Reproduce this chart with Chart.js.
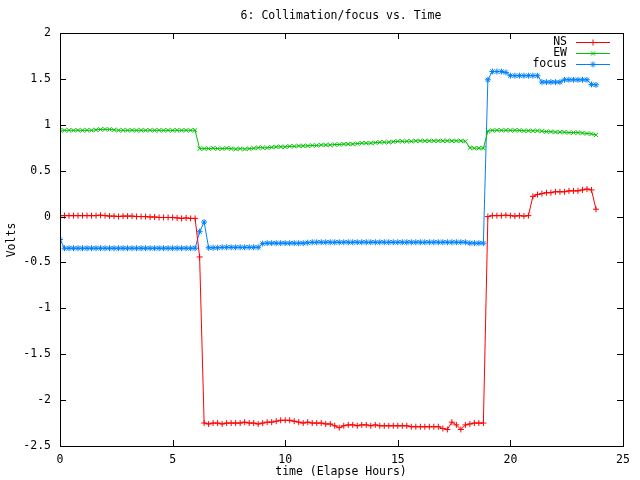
<!DOCTYPE html>
<html>
<head>
<meta charset="utf-8">
<script src="https://cdn.jsdelivr.net/npm/chart.js@4/dist/chart.umd.min.js"></script>
<style>
  html, body { margin: 0; padding: 0; background: #fff; }
  canvas { display: block; }
</style>
</head>
<body>
<canvas id="collimation-chart" width="640" height="480"></canvas>
<script>
// time axis (hours), shared by all three series
const hours = [
    0.0, 0.2, 0.4, 0.6, 0.8, 1.0, 1.2, 1.4, 1.6, 1.8,
    2.0, 2.2, 2.4, 2.6, 2.8, 3.0, 3.2, 3.4, 3.6, 3.8,
    4.0, 4.2, 4.4, 4.6, 4.8, 5.0, 5.2, 5.4, 5.6, 5.8,
    6.0, 6.2, 6.4, 6.6, 6.8, 7.0, 7.2, 7.4, 7.6, 7.8,
    8.0, 8.2, 8.4, 8.6, 8.8, 9.0, 9.2, 9.4, 9.6, 9.8,
    10.0, 10.2, 10.4, 10.6, 10.8, 11.0, 11.2, 11.4, 11.6, 11.8,
    12.0, 12.2, 12.4, 12.6, 12.8, 13.0, 13.2, 13.4, 13.6, 13.8,
    14.0, 14.2, 14.4, 14.6, 14.8, 15.0, 15.2, 15.4, 15.6, 15.8,
    16.0, 16.2, 16.4, 16.6, 16.8, 17.0, 17.2, 17.4, 17.6, 17.8,
    18.0, 18.2, 18.4, 18.6, 18.8, 19.0, 19.2, 19.4, 19.6, 19.8,
    20.0, 20.2, 20.4, 20.6, 20.8, 21.0, 21.2, 21.4, 21.6, 21.8,
    22.0, 22.2, 22.4, 22.6, 22.8, 23.0, 23.2, 23.4, 23.6, 23.8
];

const nsVolts = [
    0.01, 0.01, 0.01, 0.01, 0.01, 0.01, 0.01, 0.01, 0.01, 0.015,
    0.01, 0.005, 0.005, 0.0, 0.005, 0.005, 0.005, 0.0, 0.0, 0.0,
    -0.005, -0.005, -0.01, -0.01, -0.01, -0.01, -0.015, -0.02, -0.015, -0.02,
    -0.02, -0.44, -2.25, -2.26, -2.25, -2.25, -2.26, -2.25, -2.25, -2.25,
    -2.25, -2.24, -2.25, -2.25, -2.26, -2.25, -2.24, -2.24, -2.23, -2.22,
    -2.22, -2.22, -2.23, -2.24, -2.25, -2.24, -2.25, -2.25, -2.25, -2.26,
    -2.26, -2.28, -2.30, -2.28, -2.27, -2.27, -2.28, -2.27, -2.27, -2.28,
    -2.27, -2.28, -2.28, -2.28, -2.28, -2.28, -2.28, -2.28, -2.29, -2.29,
    -2.29, -2.29, -2.29, -2.29, -2.29, -2.31, -2.32, -2.24, -2.27, -2.32,
    -2.27, -2.26, -2.25, -2.25, -2.25, 0.0, 0.01, 0.01, 0.01, 0.015,
    0.01, 0.005, 0.01, 0.005, 0.01, 0.22, 0.24, 0.25, 0.26, 0.26,
    0.27, 0.27, 0.27, 0.28, 0.28, 0.28, 0.29, 0.30, 0.29, 0.08
];

const ewVolts = [
    0.94, 0.94, 0.94, 0.94, 0.94, 0.94, 0.94, 0.94, 0.945, 0.95,
    0.95, 0.95, 0.945, 0.94, 0.94, 0.94, 0.94, 0.94, 0.94, 0.94,
    0.94, 0.94, 0.94, 0.94, 0.94, 0.94, 0.94, 0.94, 0.94, 0.94,
    0.94, 0.74, 0.74, 0.74, 0.745, 0.74, 0.74, 0.745, 0.74, 0.735,
    0.74, 0.735, 0.74, 0.745, 0.75, 0.75, 0.75, 0.755, 0.76, 0.76,
    0.76, 0.765, 0.765, 0.77, 0.77, 0.77, 0.775, 0.775, 0.78, 0.78,
    0.78, 0.785, 0.785, 0.79, 0.79, 0.79, 0.795, 0.80, 0.80, 0.80,
    0.805, 0.81, 0.81, 0.81, 0.815, 0.82, 0.82, 0.82, 0.82, 0.825,
    0.825, 0.825, 0.825, 0.825, 0.825, 0.825, 0.825, 0.825, 0.825, 0.825,
    0.82, 0.75, 0.745, 0.745, 0.745, 0.93, 0.94, 0.94, 0.94, 0.94,
    0.94, 0.94, 0.94, 0.935, 0.935, 0.935, 0.935, 0.93, 0.925, 0.925,
    0.92, 0.92, 0.92, 0.915, 0.915, 0.915, 0.91, 0.905, 0.90, 0.89
];

const focusVolts = [
    -0.25, -0.345, -0.345, -0.345, -0.345, -0.345, -0.345, -0.345, -0.345, -0.345,
    -0.345, -0.345, -0.345, -0.345, -0.345, -0.345, -0.345, -0.345, -0.345, -0.345,
    -0.345, -0.345, -0.345, -0.345, -0.345, -0.345, -0.345, -0.345, -0.345, -0.345,
    -0.345, -0.165, -0.06, -0.34, -0.34, -0.34, -0.335, -0.335, -0.335, -0.335,
    -0.335, -0.335, -0.335, -0.335, -0.335, -0.295, -0.29, -0.29, -0.29, -0.29,
    -0.29, -0.29, -0.29, -0.29, -0.29, -0.285, -0.28, -0.28, -0.28, -0.28,
    -0.28, -0.28, -0.28, -0.28, -0.28, -0.28, -0.28, -0.28, -0.28, -0.28,
    -0.28, -0.28, -0.28, -0.28, -0.28, -0.28, -0.28, -0.28, -0.28, -0.28,
    -0.28, -0.28, -0.28, -0.28, -0.28, -0.28, -0.28, -0.28, -0.28, -0.28,
    -0.28, -0.29, -0.29, -0.29, -0.29, 1.49, 1.58, 1.58, 1.58, 1.57,
    1.535, 1.535, 1.535, 1.535, 1.535, 1.535, 1.535, 1.465, 1.465, 1.465,
    1.465, 1.465, 1.49, 1.49, 1.49, 1.49, 1.49, 1.49, 1.44, 1.435
];

const yTicks = [2, 1.5, 1, 0.5, 0, -0.5, -1, -1.5, -2, -2.5];
const xTicks = [0, 5, 10, 15, 20, 25];

const FONT = '"DejaVu Sans Mono", "Liberation Mono", monospace';

function toPoints(values) {
    return hours.map((t, i) => ({ x: t, y: values[i] }));
}

function drawMarker(ctx, style, x, y, r) {
    ctx.beginPath();
    if (style === 'cross' || style === 'star') {
        ctx.moveTo(x - r, y); ctx.lineTo(x + r, y);
        ctx.moveTo(x, y - r); ctx.lineTo(x, y + r);
    }
    if (style === 'crossRot' || style === 'star') {
        const d = r * 0.7071;
        ctx.moveTo(x - d, y - d); ctx.lineTo(x + d, y + d);
        ctx.moveTo(x - d, y + d); ctx.lineTo(x + d, y - d);
    }
    ctx.stroke();
}

// border box, inward ticks on all four sides, title, axis labels and key
const gnuplotFrame = {
    id: 'gnuplotFrame',
    afterDraw(chart) {
        const { ctx, chartArea: a, scales } = chart;
        ctx.save();
        ctx.strokeStyle = '#000';
        ctx.lineWidth = 1;
        ctx.strokeRect(Math.round(a.left) + 0.5, Math.round(a.top) + 0.5,
            Math.round(a.right - a.left), Math.round(a.bottom - a.top));

        ctx.beginPath();
        xTicks.forEach(v => {
            const px = Math.round(scales.x.getPixelForValue(v)) + 0.5;
            ctx.moveTo(px, a.bottom); ctx.lineTo(px, a.bottom - 6);
            ctx.moveTo(px, a.top); ctx.lineTo(px, a.top + 6);
        });
        yTicks.forEach(v => {
            const py = Math.round(scales.y.getPixelForValue(v)) + 0.5;
            ctx.moveTo(a.left, py); ctx.lineTo(a.left + 6, py);
            ctx.moveTo(a.right, py); ctx.lineTo(a.right - 6, py);
        });
        ctx.stroke();

        ctx.fillStyle = '#000';
        ctx.font = '11.5px ' + FONT;
        ctx.textAlign = 'center';
        ctx.textBaseline = 'middle';
        ctx.fillText('6: Collimation/focus vs. Time', 341, 16);
        ctx.fillText('time (Elapse Hours)', 341, 472);

        ctx.save();
        ctx.translate(12, 240);
        ctx.rotate(-Math.PI / 2);
        ctx.fillText('Volts', 0, 0);
        ctx.restore();

        // key, top right inside the plot
        ctx.textAlign = 'right';
        chart.data.datasets.forEach((ds, i) => {
            const y = 42 + i * 11;
            ctx.fillStyle = '#000';
            ctx.fillText(ds.label, 567, y);
            ctx.strokeStyle = ds.borderColor;
            ctx.beginPath();
            ctx.moveTo(576, y + 0.5); ctx.lineTo(610, y + 0.5);
            ctx.stroke();
            drawMarker(ctx, ds.pointStyle, 593, y + 0.5, 3);
        });
        ctx.restore();
    }
};

const seriesStyle = (color, marker) => ({
    borderColor: color,
    backgroundColor: color,
    borderWidth: 1,
    pointStyle: marker,
    pointRadius: 3,
    pointBorderWidth: 1,
    pointBorderColor: color,
    tension: 0,
    fill: false
});

const ctx = document.getElementById('collimation-chart').getContext('2d');
new Chart(ctx, {
    type: 'line',
    data: {
        datasets: [
            Object.assign({ label: 'NS', data: toPoints(nsVolts) }, seriesStyle('#ff0000', 'cross')),
            Object.assign({ label: 'EW', data: toPoints(ewVolts) }, seriesStyle('#00c000', 'crossRot')),
            Object.assign({ label: 'focus', data: toPoints(focusVolts) }, seriesStyle('#0080ff', 'star'))
        ]
    },
    options: {
        responsive: false,
        animation: false,
        devicePixelRatio: 1,
        layout: { padding: { top: 33, right: 17, left: 0, bottom: 0 } },
        plugins: {
            legend: { display: false },
            tooltip: { enabled: false },
            title: { display: false }
        },
        scales: {
            x: {
                type: 'linear',
                min: 0,
                max: 25,
                afterFit: scale => { scale.height = 34; },
                afterBuildTicks: scale => { scale.ticks = xTicks.map(v => ({ value: v })); },
                grid: { display: false, drawTicks: false },
                border: { display: false },
                ticks: {
                    color: '#000', padding: 7, maxRotation: 0,
                    font: { family: FONT, size: 11.5 },
                    callback: v => String(v)
                }
            },
            y: {
                type: 'linear',
                min: -2.5,
                max: 2,
                afterFit: scale => { scale.width = 60; },
                afterBuildTicks: scale => { scale.ticks = yTicks.map(v => ({ value: v })); },
                grid: { display: false, drawTicks: false },
                border: { display: false },
                ticks: {
                    color: '#000', padding: 9,
                    font: { family: FONT, size: 11.5 },
                    callback: v => String(v)
                }
            }
        }
    },
    plugins: [gnuplotFrame]
});
</script>
</body>
</html>
